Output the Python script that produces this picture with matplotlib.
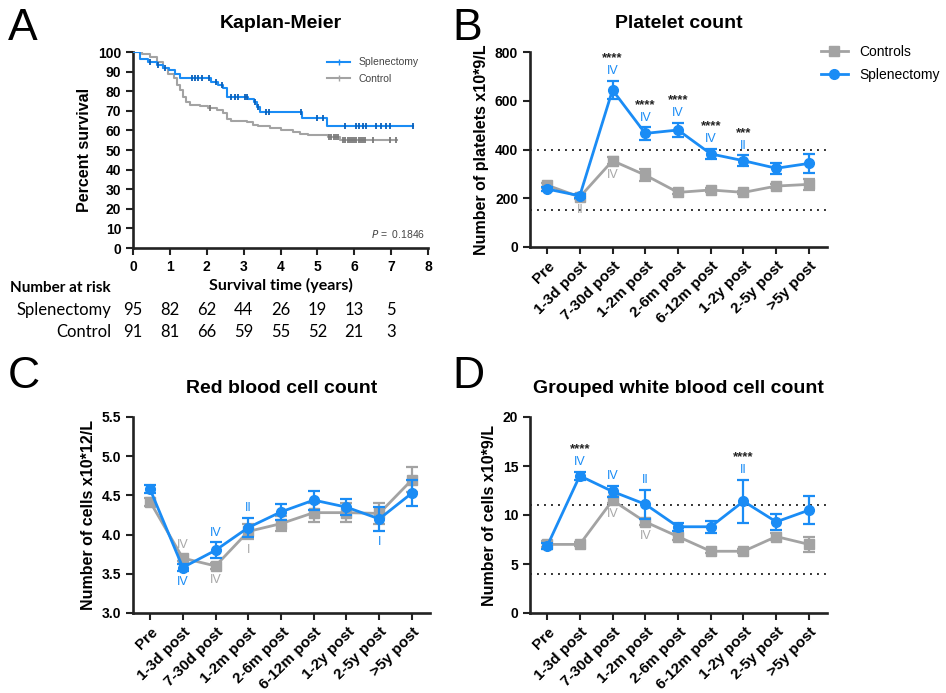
import numpy as np
import matplotlib
matplotlib.use('Agg')
import matplotlib.pyplot as plt
from matplotlib import transforms
from matplotlib.lines import Line2D

plt.rcParams['font.family'] = ['Liberation Sans', 'DejaVu Sans']

BLUE = '#1a8cf5'
GRAY = '#a3a3a3'

# ---------------- Kaplan-Meier data ----------------
splen_times = [0, 0.19, 0.41, 0.64, 0.82, 0.98, 1.14, 1.27, 2.12, 2.3, 2.45, 2.54,
               3.13, 3.27, 3.36, 3.44, 4.57, 5.25, 7.6]
splen_surv = [100, 96.4, 95, 93.4, 92, 90.8, 89, 86.6, 84.9, 83.2, 81.5, 77.2,
              76, 74.5, 72, 69.3, 66.5, 62.2, 62.2]
splen_cens = [0.45, 0.68, 0.86, 1.59, 1.68, 1.77, 1.86, 2.07, 2.24, 2.4, 2.67, 2.76,
              2.85, 3.03, 3.1, 3.3, 3.4, 3.6, 3.7, 4.55, 5.0, 5.14, 5.75, 6.05,
              6.14, 6.23, 6.32, 6.6, 6.72, 6.85, 6.98, 7.58]
ctrl_times = [0, 0.25, 0.46, 0.64, 0.82, 0.95, 1.1, 1.2, 1.28, 1.36, 1.45, 1.55,
              1.82, 2.04, 2.27, 2.45, 2.54, 2.67, 3.1, 3.25, 3.4, 3.71, 4.0, 4.34,
              4.52, 4.75, 5.29, 5.6, 7.15]
ctrl_surv = [100, 98.9, 97.6, 95, 91.7, 89, 86.6, 83.2, 80.6, 77, 74.6, 73,
             72.6, 71.6, 70.4, 68.7, 66, 64.8, 64.1, 63, 62, 61, 60, 59,
             58, 57.4, 56.6, 55.2, 55.2]
ctrl_cens = [2.1, 5.32, 5.38, 5.44, 5.5, 5.56, 5.7, 5.76, 5.82, 5.88, 5.94, 6.0,
             6.06, 6.12, 6.18, 6.24, 6.3, 6.5, 6.98, 7.12]
risk_times = [0, 1, 2, 3, 4, 5, 6, 7]
risk_splen = [95, 82, 62, 44, 26, 19, 13, 5]
risk_ctrl = [91, 81, 66, 59, 55, 52, 21, 3]
p_value = '0.1846'

# ---------------- Category panels ----------------
categories = ['Pre', '1-3d post', '7-30d post', '1-2m post', '2-6m post',
              '6-12m post', '1-2y post', '2-5y post', '>5y post']

plt_ctrl = [254, 205, 354, 295, 224, 234, 224, 250, 257]
plt_ctrl_err = [10, 8, 15, 25, 8, 10, 6, 8, 22]
plt_spl = [238, 210, 644, 466, 480, 382, 354, 323, 343]
plt_spl_err = [10, 8, 38, 25, 30, 22, 22, 22, 38]
plt_refs = [400, 150]

rbc_ctrl = [4.42, 3.70, 3.60, 4.04, 4.14, 4.28, 4.28, 4.27, 4.70]
rbc_ctrl_err = [0.05, 0.04, 0.04, 0.1, 0.1, 0.12, 0.12, 0.13, 0.16]
rbc_spl = [4.58, 3.58, 3.80, 4.09, 4.29, 4.44, 4.35, 4.20, 4.53]
rbc_spl_err = [0.05, 0.04, 0.1, 0.12, 0.1, 0.12, 0.1, 0.15, 0.17]

wbc_ctrl = [7.0, 7.0, 11.5, 9.3, 7.8, 6.3, 6.3, 7.8, 7.0]
wbc_ctrl_err = [0.3, 0.2, 0.3, 0.3, 0.3, 0.2, 0.2, 0.4, 0.8]
wbc_spl = [6.8, 14.0, 12.4, 11.1, 8.8, 8.8, 11.4, 9.3, 10.5]
wbc_spl_err = [0.3, 0.4, 0.6, 1.5, 0.4, 0.6, 2.2, 0.8, 1.4]
wbc_refs = [11, 4]

# annotations: (index, series, side, label)
plt_marks = [(2, 'spl', 'up', 'IV'), (3, 'spl', 'up', 'IV'), (4, 'spl', 'up', 'IV'),
             (5, 'spl', 'up', 'IV'), (6, 'spl', 'up', 'II'),
             (2, 'ctrl', 'down', 'IV'), (1, 'ctrl', 'down', 'II')]
plt_stars = [(2, '****'), (3, '****'), (4, '****'), (5, '****'), (6, '***')]
rbc_marks = [(1, 'ctrl', 'up', 'IV'), (1, 'spl', 'down', 'IV'), (2, 'spl', 'up', 'IV'),
             (2, 'ctrl', 'down', 'IV'), (3, 'spl', 'up', 'II'), (3, 'ctrl', 'down', 'I'),
             (7, 'spl', 'down', 'I')]
rbc_stars = []
wbc_marks = [(1, 'spl', 'up', 'IV'), (2, 'spl', 'up', 'IV'), (3, 'spl', 'up', 'II'),
             (2, 'ctrl', 'down', 'IV'), (3, 'ctrl', 'down', 'IV'), (6, 'spl', 'up', 'II')]
wbc_stars = [(1, '****'), (6, '****')]

W, H = 946, 693
fig = plt.figure(figsize=(W / 100, H / 100), dpi=100)


def px_axes(l, t, r, b):
    return fig.add_axes([l / W, 1 - b / H, (r - l) / W, (b - t) / H])


def style(ax, xsize=10):
    for s in ['top', 'right']:
        ax.spines[s].set_visible(False)
    for s in ['left', 'bottom']:
        ax.spines[s].set_linewidth(1.9)
        ax.spines[s].set_color('#222222')
    ax.tick_params(width=1.5, length=5, color='#222222', labelsize=10)
    ax.tick_params(axis='x', labelsize=xsize)
    for lab in ax.get_xticklabels() + ax.get_yticklabels():
        lab.set_fontweight('bold')


# ---------------- Panel A ----------------
axA = px_axes(133, 52, 428, 248)
axA.step(ctrl_times, ctrl_surv, where='post', color=GRAY, lw=1.5, zorder=2)
axA.step(splen_times, splen_surv, where='post', color=BLUE, lw=1.5, zorder=3)


def surv_at(times, surv, t):
    i = np.searchsorted(times, t, side='right') - 1
    return np.asarray(surv)[i]


axA.plot(ctrl_cens, surv_at(ctrl_times, ctrl_surv, ctrl_cens), ls='none', marker='|',
         ms=5, mew=1.3, color='#7a7a7a', zorder=2)
axA.plot(splen_cens, surv_at(splen_times, splen_surv, splen_cens), ls='none', marker='|',
         ms=5, mew=1.3, color='#0b5fb8', zorder=3)
axA.set_xlim(0, 8)
axA.set_ylim(0, 100)
axA.set_xticks(range(0, 9))
axA.set_yticks(range(0, 101, 10))
style(axA)
axA.set_ylabel('Percent survival', fontsize=11.5, fontweight='bold', labelpad=4)
axA.set_title('Kaplan-Meier', fontsize=14, fontweight='bold', pad=17)
legA = axA.legend(handles=[Line2D([], [], color=BLUE, lw=1.5, marker='|', ms=5),
                           Line2D([], [], color=GRAY, lw=1.5, marker='|', ms=5)],
                  labels=['Splenectomy', 'Control'], loc='upper right',
                  bbox_to_anchor=(1.0, 1.02), frameon=False, fontsize=7.5,
                  handlelength=2.2, labelcolor='#444444', labelspacing=0.6)
axA.text(0.99, 0.04, '$P$ =  ' + p_value, transform=axA.transAxes, ha='right',
         va='bottom', fontsize=7.5, color='#444444')

tr = transforms.blended_transform_factory(axA.transData, fig.transFigure)
tfont = ['Lato', 'DejaVu Sans']
axA.text(4, 1 - 285 / H, 'Survival time (years)', transform=tr, ha='center', va='center',
         fontsize=11.5, fontweight='bold', family=tfont, clip_on=False)
fig.text(10 / W, 1 - 288 / H, 'Number at risk', ha='left', va='center', fontsize=11,
         fontweight='bold', family=tfont)
fig.text(111 / W, 1 - 310 / H, 'Splenectomy', ha='right', va='center', fontsize=12,
         family=tfont)
fig.text(111 / W, 1 - 332 / H, 'Control', ha='right', va='center', fontsize=12,
         family=tfont)
for t, a, b in zip(risk_times, risk_splen, risk_ctrl):
    axA.text(t, 1 - 310 / H, str(a), transform=tr, ha='center', va='center',
             fontsize=12, family=tfont, clip_on=False)
    axA.text(t, 1 - 332 / H, str(b), transform=tr, ha='center', va='center',
             fontsize=12, family=tfont, clip_on=False)


# ---------------- Category panels ----------------
def cat_panel(ax, ctrl, ctrl_err, spl, spl_err, ylim, yticks, refs, title, ylabel,
              marks, stars, tick_fmt):
    x = np.arange(len(categories))
    for r in refs:
        ax.axhline(r, color='#333333', ls=(0, (1, 2.6)), lw=1.4, zorder=1)
    ax.errorbar(x, ctrl, yerr=ctrl_err, color=GRAY, marker='s', ms=7, lw=2,
                capsize=4, capthick=1.6, elinewidth=1.6, zorder=3)
    ax.errorbar(x, spl, yerr=spl_err, color=BLUE, marker='o', ms=7, lw=2,
                capsize=4, capthick=1.6, elinewidth=1.6, zorder=4)
    data = {'ctrl': (ctrl, ctrl_err, '#a8a8a8'), 'spl': (spl, spl_err, BLUE)}
    for idx, ser, side, lab in marks:
        v, e, c = data[ser]
        if side == 'up':
            ax.annotate(lab, (idx, v[idx] + e[idx]), xytext=(0, 7), textcoords='offset points',
                        ha='center', va='center', fontsize=9, color=c)
        else:
            ax.annotate(lab, (idx, v[idx] - e[idx]), xytext=(0, -8), textcoords='offset points',
                        ha='center', va='center', fontsize=9, color=c)
    for idx, s in stars:
        ax.annotate(s, (idx, spl[idx] + spl_err[idx]), xytext=(0, 16),
                    textcoords='offset points', ha='center', va='center', fontsize=9.5,
                    fontweight='bold', color='#222222')
    ax.set_xlim(-0.52, 8.55)
    ax.set_ylim(*ylim)
    ax.set_yticks(yticks)
    ax.set_yticklabels([tick_fmt.format(t) for t in yticks])
    ax.set_xticks(x)
    ax.set_xticklabels(categories, rotation=45, ha='right', va='center',
                       rotation_mode='anchor')
    style(ax, xsize=11)
    ax.tick_params(axis='x', pad=7)
    ax.set_title(title, fontsize=14, fontweight='bold', pad=17)
    ax.set_ylabel(ylabel, fontsize=11.5, fontweight='bold', labelpad=4)
    for lab in ax.get_xticklabels():
        lab.set_transform(lab.get_transform() +
                          transforms.ScaledTranslation(4 / 72, 0, fig.dpi_scale_trans))


axB = px_axes(530, 52, 827, 247)
cat_panel(axB, plt_ctrl, plt_ctrl_err, plt_spl, plt_spl_err, (0, 800), [0, 200, 400, 600, 800],
          plt_refs, 'Platelet count', 'Number of platelets x10*9/L', plt_marks, plt_stars, '{:.0f}')
fig.legend(handles=[Line2D([], [], color=GRAY, lw=2, marker='s', ms=7),
                    Line2D([], [], color=BLUE, lw=2, marker='o', ms=7)],
           labels=['Controls', 'Splenectomy'], loc='upper left',
           bbox_to_anchor=(808 / W, 1 - 32 / H), frameon=False, fontsize=10,
           handlelength=2.0, handletextpad=0.8, labelspacing=0.65)

axC = px_axes(133, 417, 430, 613)
cat_panel(axC, rbc_ctrl, rbc_ctrl_err, rbc_spl, rbc_spl_err, (3.0, 5.5),
          [3.0, 3.5, 4.0, 4.5, 5.0, 5.5], [], 'Red blood cell count',
          'Number of cells x10*12/L', rbc_marks, rbc_stars, '{:.1f}')

axD = px_axes(530, 417, 827, 613)
cat_panel(axD, wbc_ctrl, wbc_ctrl_err, wbc_spl, wbc_spl_err, (0, 20), [0, 5, 10, 15, 20],
          wbc_refs, 'Grouped white blood cell count', 'Number of cells x10*9/L',
          wbc_marks, wbc_stars, '{:.0f}')

# panel letters
for lab, xx, yy in [('A', 8, 8), ('B', 452, 8), ('C', 8, 356), ('D', 452, 356)]:
    fig.text(xx / W, 1 - yy / H, lab, ha='left', va='top', fontsize=32)

fig.savefig('out.png', dpi=100)
